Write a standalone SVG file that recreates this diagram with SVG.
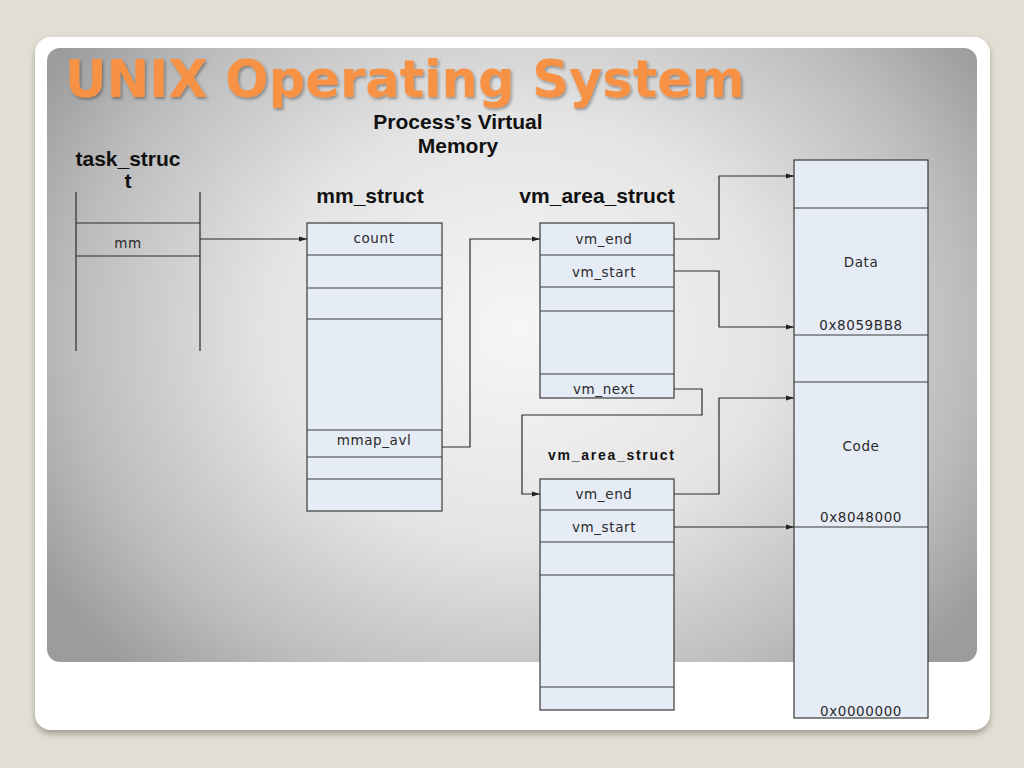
<svg xmlns="http://www.w3.org/2000/svg" width="1024" height="768" viewBox="0 0 1024 768">
<defs>
<radialGradient id="panelGrad" cx="520" cy="330" r="560" gradientUnits="userSpaceOnUse" gradientTransform="translate(520 330) scale(1 0.85) translate(-520 -330)">
<stop offset="0" stop-color="#f6f6f6"/>
<stop offset="0.45" stop-color="#e4e4e4"/>
<stop offset="0.8" stop-color="#bcbcbc"/>
<stop offset="1" stop-color="#9c9c9c"/>
</radialGradient>
<filter id="cardShadow" x="-5%" y="-5%" width="110%" height="115%">
<feDropShadow dx="0" dy="4" stdDeviation="3" flood-color="#7a766a" flood-opacity="0.6"/>
</filter>
<filter id="titleShadow" x="-5%" y="-20%" width="110%" height="150%">
<feDropShadow dx="1.5" dy="2" stdDeviation="1.5" flood-color="#000" flood-opacity="0.35"/>
</filter>
<marker id="arr" markerWidth="8" markerHeight="6" refX="8" refY="3" orient="auto" markerUnits="userSpaceOnUse">
<path d="M0,0.5 L8,3 L0,5.5 Z" fill="#222"/>
</marker>
<style>
.box{fill:#e6ecf6;stroke:#3a3a3a;stroke-width:1.2}
.div{stroke:#3a3a3a;stroke-width:1.2}
.line{fill:none;stroke:#2a2a2a;stroke-width:1.2}
.conn{fill:none;stroke:#2a2a2a;stroke-width:1.2;marker-end:url(#arr)}
.cell{font-family:"DejaVu Sans",Verdana,sans-serif;font-size:13.5px;fill:#2a2a2a;text-anchor:middle;letter-spacing:0.6px}
.head{font-family:"Liberation Sans",Arial,sans-serif;font-weight:bold;font-size:21px;fill:#111;text-anchor:middle}
</style>
</defs>
<rect width="1024" height="768" fill="#e2ded3"/>
<rect x="35" y="37" width="955" height="693" rx="16" fill="#ffffff" filter="url(#cardShadow)"/>
<rect x="47" y="48" width="930" height="614" rx="13" fill="url(#panelGrad)"/>
<text x="65" y="97" font-family="'DejaVu Sans',Verdana,sans-serif" font-weight="bold" font-size="51" fill="#f79245" textLength="680" lengthAdjust="spacingAndGlyphs" filter="url(#titleShadow)">UNIX Operating System</text>

<text class="head" x="458" y="129">Process’s Virtual</text>
<text class="head" x="458" y="153">Memory</text>

<g id="task_struct">
<text class="head" x="128" y="166" font-size="20">task_struc</text>
<text class="head" x="128" y="188" font-size="20">t</text>
<line class="line" x1="76" y1="192" x2="76" y2="351"/>
<line class="line" x1="200" y1="192" x2="200" y2="351"/>
<line class="line" x1="76" y1="223" x2="200" y2="223"/>
<line class="line" x1="76" y1="256" x2="200" y2="256"/>
<text class="cell" x="128" y="248">mm</text>
</g>

<g id="mm_struct">
<text class="head" x="370" y="203">mm_struct</text>
<rect class="box" x="307" y="223" width="135" height="288"/>
<line class="div" x1="307" y1="255" x2="442" y2="255"/>
<line class="div" x1="307" y1="288" x2="442" y2="288"/>
<line class="div" x1="307" y1="319" x2="442" y2="319"/>
<line class="div" x1="307" y1="430" x2="442" y2="430"/>
<line class="div" x1="307" y1="457" x2="442" y2="457"/>
<line class="div" x1="307" y1="479" x2="442" y2="479"/>
<text class="cell" x="374" y="243">count</text>
<text class="cell" x="374" y="445">mmap_avl</text>
</g>

<g id="vm_area_struct_1">
<text class="head" x="597" y="203">vm_area_struct</text>
<rect class="box" x="540" y="223" width="134" height="175"/>
<line class="div" x1="540" y1="255" x2="674" y2="255"/>
<line class="div" x1="540" y1="287" x2="674" y2="287"/>
<line class="div" x1="540" y1="311" x2="674" y2="311"/>
<line class="div" x1="540" y1="374" x2="674" y2="374"/>
<text class="cell" x="604" y="244">vm_end</text>
<text class="cell" x="604" y="277">vm_start</text>
<text class="cell" x="604" y="394">vm_next</text>
</g>

<g id="vm_area_struct_2">
<text x="611" y="460" font-family="'Liberation Sans',Arial,sans-serif" font-weight="bold" font-size="14" fill="#111" text-anchor="middle" textLength="126" lengthAdjust="spacing">vm_area_struct</text>
<rect class="box" x="540" y="479" width="134" height="231"/>
<line class="div" x1="540" y1="510" x2="674" y2="510"/>
<line class="div" x1="540" y1="542" x2="674" y2="542"/>
<line class="div" x1="540" y1="575" x2="674" y2="575"/>
<line class="div" x1="540" y1="687" x2="674" y2="687"/>
<text class="cell" x="604" y="499">vm_end</text>
<text class="cell" x="604" y="532">vm_start</text>
</g>

<g id="virtual_memory">
<rect class="box" x="794" y="160" width="134" height="558"/>
<line class="div" x1="794" y1="208" x2="928" y2="208"/>
<line class="div" x1="794" y1="335" x2="928" y2="335"/>
<line class="div" x1="794" y1="382" x2="928" y2="382"/>
<line class="div" x1="794" y1="527" x2="928" y2="527"/>
<text class="cell" x="861" y="267">Data</text>
<text class="cell" x="861" y="330">0x8059BB8</text>
<text class="cell" x="861" y="451">Code</text>
<text class="cell" x="861" y="522">0x8048000</text>
<text class="cell" x="861" y="716">0x0000000</text>
</g>

<g id="connectors">
<path class="conn" d="M200,239 H307"/>
<path class="conn" d="M442,447 H470 V239 H540"/>
<path class="conn" d="M674,239 H719 V176 H794"/>
<path class="conn" d="M674,271 H719 V327 H794"/>
<path class="conn" d="M674,389 H702 V415 H522 V494 H540"/>
<path class="conn" d="M674,494 H719 V398 H794"/>
<path class="conn" d="M674,527 H794"/>
</g>
</svg>
